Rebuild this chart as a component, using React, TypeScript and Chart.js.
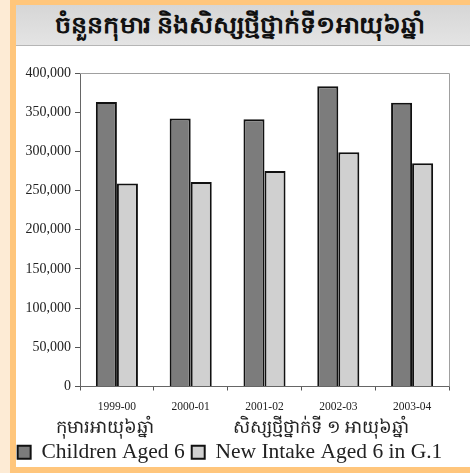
import React, { useEffect, useRef } from "react";
import { Chart, registerables } from "chart.js";

Chart.register(...registerables);

const TITLE = "ចំនួនកុមារ  និងសិស្សថ្មីថ្នាក់ទី១អាយុ៦ឆ្នាំ";
const categories = ["1999-00", "2000-01", "2001-02", "2002-03", "2003-04"];
const childrenAged6 = [363000, 342000, 341000, 383000, 362000];
const newIntakeAged6 = [259000, 261000, 275000, 299000, 285000];
const seriesLabels = ["Children Aged 6", "New Intake Aged 6 in G.1"];
const seriesLabelsKh = ["កុមារអាយុ៦ឆ្នាំ", "សិស្សថ្មីថ្នាក់ទី ១ អាយុ៦ឆ្នាំ"];
const Y_MAX = 400000;
const Y_STEP = 50000;

const SERIF = '"Liberation Serif", "Times New Roman", serif';

const extrasPlugin = {
  id: "extras",
  afterDraw(chart: any) {
    const { ctx, chartArea: a } = chart;
    ctx.save();
    ctx.strokeStyle = "#a0a0a0";
    ctx.lineWidth = 1;
    ctx.beginPath();
    ctx.moveTo(a.left, Math.round(a.top) + 0.5);
    ctx.lineTo(Math.round(a.right) + 0.5, Math.round(a.top) + 0.5);
    ctx.lineTo(Math.round(a.right) + 0.5, a.bottom);
    ctx.stroke();
    const legend = chart.legend;
    const boxes = legend && legend.legendHitBoxes ? legend.legendHitBoxes : [];
    ctx.font = `18px ${SERIF}`;
    ctx.fillStyle = "#222";
    ctx.textAlign = "center";
    ctx.textBaseline = "middle";
    boxes.forEach((b: any, i: number) => {
      if (seriesLabelsKh[i]) ctx.fillText(seriesLabelsKh[i], b.left + b.width / 2 + 4, legend.top - 6);
    });
    ctx.restore();
  },
};

function BarChart() {
  const ref = useRef<HTMLCanvasElement | null>(null);
  useEffect(() => {
    if (!ref.current) return;
    const chart = new Chart(ref.current, {
      type: "bar",
      data: {
        labels: categories,
        datasets: [
          {
            label: seriesLabels[0],
            data: childrenAged6,
            backgroundColor: "#7c7c7c",
            borderColor: "#111",
            borderWidth: 2,
          },
          {
            label: seriesLabels[1],
            data: newIntakeAged6,
            backgroundColor: "#d0d0d0",
            borderColor: "#111",
            borderWidth: 2,
          },
        ],
      },
      options: {
        animation: false,
        responsive: false,
        maintainAspectRatio: false,
        layout: { padding: { top: 25, right: 10, left: 0, bottom: 0 } },
        datasets: { bar: { categoryPercentage: 0.57, barPercentage: 1 } },
        plugins: {
          title: { display: false },
          tooltip: { enabled: false },
          legend: {
            display: true,
            position: "bottom",
            labels: {
              boxWidth: 13,
              boxHeight: 13,
              padding: 7,
              color: "#222",
              font: { family: SERIF, size: 21.5 },
            },
          },
        },
        scales: {
          x: {
            afterFit: (s: any) => {
              s.height = 48;
            },
            grid: {
              display: true,
              drawOnChartArea: false,
              drawTicks: true,
              tickLength: 4,
              color: "#555",
              offset: true,
            },
            border: { display: true, color: "#666", width: 1 },
            ticks: { color: "#222", padding: 10, font: { family: SERIF, size: 11.5 } },
          },
          y: {
            min: 0,
            max: Y_MAX,
            afterFit: (s: any) => {
              s.width = 80;
            },
            grid: {
              display: true,
              drawOnChartArea: false,
              drawTicks: true,
              tickLength: 5,
              color: "#555",
            },
            border: { display: true, color: "#666", width: 1 },
            ticks: {
              stepSize: Y_STEP,
              color: "#222",
              padding: 4,
              font: { family: SERIF, size: 14 },
              callback: (v: any) => Number(v).toLocaleString("en-US"),
            },
          },
          yRight: {
            position: "right",
            min: 0,
            max: 1,
            afterFit: (s: any) => {
              s.width = 11;
            },
            grid: { display: false, drawTicks: false },
            border: { display: false },
            ticks: { display: false },
          },
        },
      },
      plugins: [extrasPlugin],
    });
    return () => chart.destroy();
  }, []);
  return <canvas ref={ref} width={470} height={425} style={{ display: "block", width: 470, height: 425 }} />;
}

export default function App() {
  return (
    <div
      style={{
        position: "absolute",
        left: 0,
        top: 0,
        width: 470,
        height: 473,
        background: "#fdebd5",
        overflow: "hidden",
      }}
    >
      <div
        style={{
          position: "absolute",
          left: 10,
          top: 0,
          width: 460,
          height: 473,
          background: "#ffc67c",
        }}
      />
      <div
        style={{
          position: "absolute",
          left: 16,
          top: 5,
          width: 454,
          height: 462,
          background: "#ffffff",
        }}
      />
      <div
        style={{
          position: "absolute",
          left: 16,
          top: 5,
          width: 454,
          height: 41,
          background: "linear-gradient(#d6d6d6, #e4e4e4)",
          borderBottom: "1px solid #b5b5b5",
          display: "flex",
          alignItems: "center",
          justifyContent: "center",
          fontFamily: SERIF,
          fontSize: 23.5,
          fontWeight: "bold",
          color: "#111",
          whiteSpace: "nowrap",
          boxSizing: "border-box",
          paddingTop: 3,
          paddingRight: 6,
        }}
      >
        <span style={{ display: "inline-block", transform: "scaleX(1.075)" }}>{TITLE}</span>
      </div>
      <div style={{ position: "absolute", left: 0, top: 48 }}>
        <BarChart />
      </div>
    </div>
  );
}
